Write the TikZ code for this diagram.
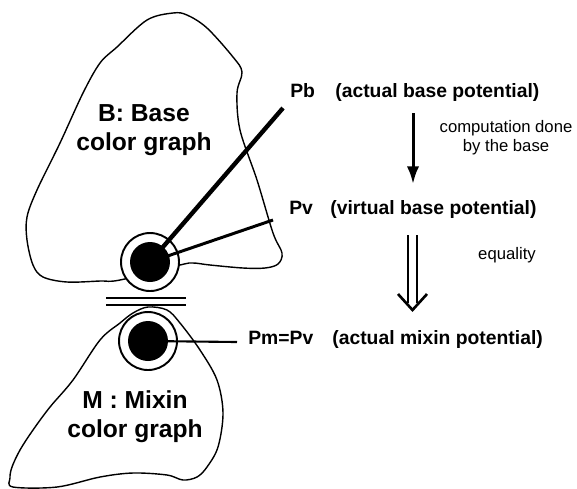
\documentclass[tikz,border=0pt]{standalone}
\usepackage{fontspec}
\setmainfont{Liberation Sans}
\usetikzlibrary{arrows.meta}

\begin{document}
\begin{tikzpicture}[x=0.02cm, y=-0.02cm,
    >=Latex,
    blob/.style={line width=0.8pt, line join=round},
    ring/.style={circle, draw, line width=1.1pt, fill=white, minimum size=1.16cm, inner sep=0pt},
    disk/.style={circle, fill=black, minimum size=0.8cm, inner sep=0pt},
    title/.style={font=\fontsize{14}{16.5}\selectfont\bfseries, align=center, inner sep=0pt},
    pot/.style={font=\fontsize{11}{13}\selectfont\bfseries, anchor=base west, inner sep=0pt},
    note/.style={font=\fontsize{9.5}{10.8}\selectfont, align=center, inner sep=0pt},
    arr/.style={-{Latex[length=10pt,width=7pt]}, line width=1.7pt},
    dbl/.style={line width=1.5pt},
    bar/.style={line width=1.6pt}
  ]
  \useasboundingbox (0,0) rectangle (577,488);

  % the two colour graphs
  \draw[blob] plot[smooth cycle, tension=0.55] coordinates {
    (120,280) (100,281) (67,282) (43,277) (33,265) (27,240) (27,217)
    (37,190) (60,143) (83,93) (100,63) (117,47) (147,20) (173,13)
    (187,15) (207,28) (233,57) (242,72) (237,93) (240,130) (257,180)
    (273,233) (282,253) (278,264) (265,268) (243,268) (210,265) (193,263) (180,265)};
  \draw[blob] plot[smooth cycle, tension=0.55] coordinates {
    (148,307) (167,310) (180,323) (200,350) (217,380) (223,413) (218,447)
    (207,467) (197,477) (183,480) (167,475) (133,473) (100,477) (57,487)
    (13,487) (10,478) (12,467) (20,450) (33,430) (50,407) (73,380)
    (100,340) (120,323) (133,313)};

  \node[title] (blabel) at (144,130) {B: Base\\color graph};
  \node[title] (mlabel) at (135,417) {M : Mixin\\color graph};

  % potentials
  \node[ring] (bring) at (150,262) {};
  \node[ring] (mring) at (148,341) {};
  \draw[bar] (106,298) -- (186,298) (106,305) -- (186,305);

  \node[pot] (pb)    at (290,97)  {Pb};
  \node[pot] (pbtxt) at (335,97)  {(actual base potential)};
  \node[pot] (pv)    at (289,214) {Pv};
  \node[pot] (pvtxt) at (330,214) {(virtual base potential)};
  \node[pot] (pm)    at (248,344) {Pm=Pv};
  \node[pot] (pmtxt) at (332,344) {(actual mixin potential)};

  \coordinate (pbend) at (283,108);
  \coordinate (pvend) at (273,220);
  \coordinate (pmend) at (237,342);
  \draw[line width=2.5pt] (bring.center) -- (pbend);
  \draw[line width=1.7pt] (bring.center) -- (pvend);
  \draw[line width=1.2pt] (mring.center) -- (pmend);

  \node[disk] (bdisk) at (bring) {};
  \node[disk] (mdisk) at (mring) {};

  % from Pb to Pv, then Pv = Pm
  \coordinate (c1) at (413,113);
  \coordinate (c2) at (413,184);
  \draw[arr] (c1) -- (c2);
  \node[note] (comp) at (506,138) {computation done\\by the base};

  \coordinate (e1) at (412.5,235);
  \coordinate (e2) at (412.5,310);
  \draw[dbl] (408,235) -- (408,303) (417,235) -- (417,303);
  \draw[dbl, line join=miter] (398,294) -- (e2) -- (427,294);
  \node[note] (eq) at (507,255) {equality};
\end{tikzpicture}
\end{document}
